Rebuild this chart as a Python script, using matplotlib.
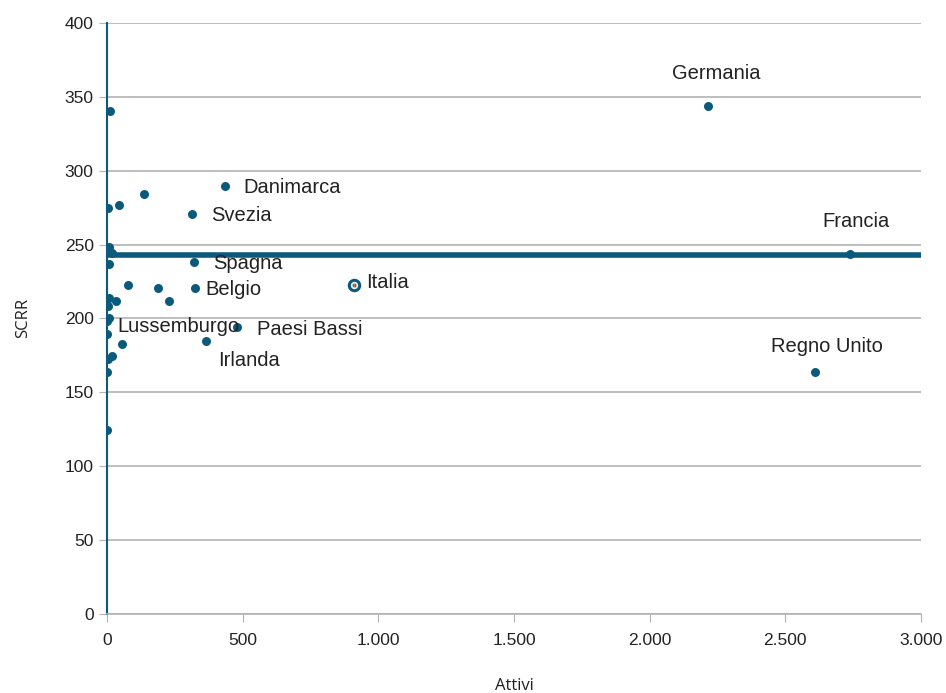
import matplotlib.pyplot as plt

plt.rcParams['font.family'] = ['Liberation Sans', 'DejaVu Sans']

# paesi con etichetta
paesi = ["Germania", "Francia", "Regno Unito", "Danimarca", "Svezia", "Spagna",
         "Belgio", "Paesi Bassi", "Irlanda", "Lussemburgo"]
attivi_paesi = [2215, 2740, 2610, 435, 313, 321, 324, 479, 365, 8]
scrr_paesi = [343.5, 243.5, 163.5, 289.5, 270.5, 238.5, 220.5, 194, 185, 200.5]

# Italia (marcatore speciale)
attivi_italia = 910
scrr_italia = 222.5

# altri paesi senza etichetta
attivi_altri = [12, 137, 45, 5, 8, 17, 7, 76, 189, 227, 8, 32, 4, 0, 1, 54, 20, 5, 2, 1]
scrr_altri = [340.5, 284.5, 276.5, 274.5, 248, 244.5, 236.5, 222.5, 220.5, 211.5,
              213.5, 211.5, 208.5, 198.5, 189.5, 182.5, 174.5, 172.5, 163.5, 124.5]

# media
media_x = [0, 3000]
media_y = [243, 243]

# posizione etichette (pixel rispetto al punto)
offset_etichette = [(8, 33, "center"), (6, 33, "center"), (12, 26, "center"),
                    (18, -1, "left"), (19, -1, "left"), (19, -2, "left"),
                    (11, -1, "left"), (20, -2, "left"), (12, -20, "left"),
                    (8, -9, "left")]

blu = "#0b5a7c"

fig = plt.figure(figsize=(9.46, 6.93), dpi=100)
ax = fig.add_axes([0.113, 0.114, 0.8606, 0.853])

ax.plot(media_x, media_y, color=blu, linewidth=4, zorder=2)
ax.scatter(attivi_altri, scrr_altri, s=42, color=blu, zorder=3, linewidths=0)
ax.scatter(attivi_paesi, scrr_paesi, s=42, color=blu, zorder=3, linewidths=0)

ax.plot(attivi_italia, scrr_italia, marker="o", ms=7.5, mfc="white", mec=blu,
        mew=2.2, zorder=4)
ax.plot(attivi_italia, scrr_italia, marker="o", ms=3, fillstyle="left",
        mfc="#2e9a4a", mfcalt="#d0303a", mew=0, zorder=5)

for nome, x, y, (dx, dy, ha) in zip(paesi, attivi_paesi, scrr_paesi, offset_etichette):
    ax.annotate(nome, (x, y), xytext=(dx, dy), textcoords="offset pixels",
                ha=ha, va="center", fontsize=14.5, color="#222222")
ax.annotate("Italia", (attivi_italia, scrr_italia), xytext=(12, 3),
            textcoords="offset pixels", ha="left", va="center", fontsize=14.5,
            color="#222222")

ax.set_xlim(0, 3000)
ax.set_ylim(0, 400)
ax.set_xticks(range(0, 3001, 500))
ax.set_xticklabels(["0", "500", "1.000", "1.500", "2.000", "2.500", "3.000"])
ax.set_yticks(range(0, 401, 50))

ax.grid(axis="y", color="#b3b3b3", linewidth=1.2)
ax.set_axisbelow(True)

for lato in ["top", "right"]:
    ax.spines[lato].set_visible(False)
ax.spines["left"].set_color(blu)
ax.spines["left"].set_linewidth(1.5)
ax.spines["bottom"].set_color("#b3b3b3")
ax.spines["bottom"].set_linewidth(1.2)

ax.tick_params(axis="x", colors="#b3b3b3", labelcolor="#222222", length=6,
               labelsize=12.5, pad=8)
ax.tick_params(axis="y", colors="#b3b3b3", labelcolor="#222222", length=6,
               labelsize=12.5)

ax.set_xlabel("Attivi", fontsize=12, color="#222222", labelpad=21,
              family=["Open Sans", "DejaVu Sans"])
ax.set_ylabel("SCRR", fontsize=12, color="#222222", labelpad=24,
              family=["Open Sans", "DejaVu Sans"])

plt.savefig("out.png", dpi=100)
